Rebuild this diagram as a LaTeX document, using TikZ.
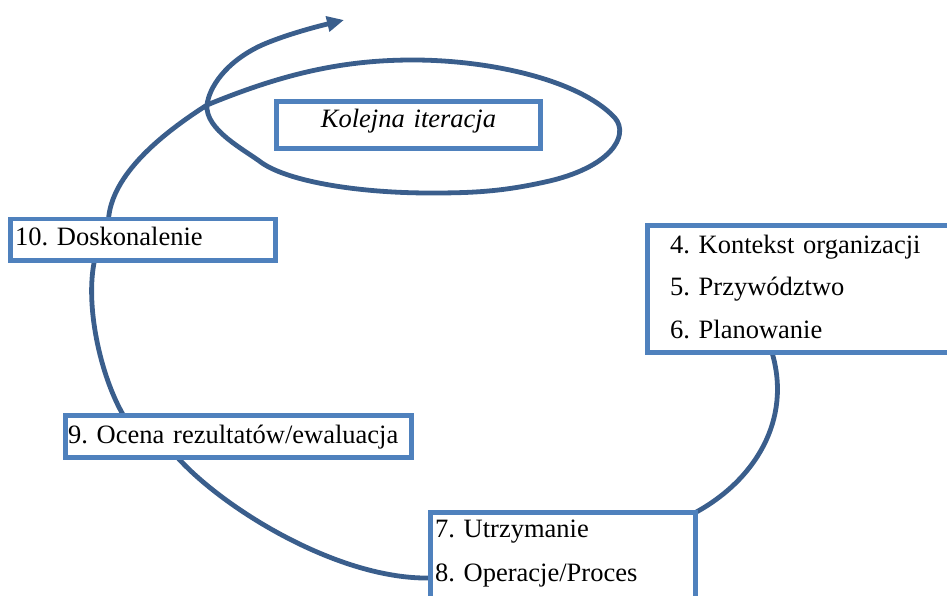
\documentclass[tikz,border=0pt]{standalone}
\usepackage{fontspec}
\setmainfont{Liberation Serif}
\usetikzlibrary{arrows.meta,calc}
\pgfdeclarelayer{background}
\pgfsetlayers{background,main}
\definecolor{boxblue}{HTML}{4F81BD}
\definecolor{curveblue}{HTML}{3A5E8C}
\frenchspacing
\begin{document}
\begin{tikzpicture}[x=1pt,y=-1pt,
  stagebox/.style={draw=boxblue, line width=4.5pt, fill=white, rectangle,
    inner ysep=0pt, outer sep=0pt, align=left,
    font=\fontsize{26.5}{42.5}\selectfont\frenchspacing},
  cyclepath/.style={draw=curveblue, line width=4.8pt}]
\useasboundingbox (0,0) rectangle (947,596);

\node[stagebox, minimum width=265pt, minimum height=41.5pt, inner xsep=4.5pt,
  text width=256pt, text height=17pt, text depth=6.5pt] (b10) at (143,239.75) {10. Doskonalenie};
\node[stagebox, align=center, minimum width=264pt, minimum height=47pt, inner xsep=4pt,
  text width=256pt, text height=16pt, text depth=10pt,
  font=\fontsize{26.5}{42.5}\selectfont\itshape] (iter) at (408.5,125) {Kolejna iteracja};
\node[stagebox, minimum width=332.5pt, minimum height=127pt, inner xsep=22.5pt,
  text width=287.5pt, text height=10pt, text depth=82pt] (b46) at (813.75,289)
  {4. Kontekst organizacji\\5. Przywództwo\\6. Planowanie};
\node[stagebox, minimum width=265pt, minimum height=107.5pt, inner xsep=4.5pt,
  text width=256pt, text height=10pt, text depth=68.5pt] (b78) at (563,566.25)
  {7. Utrzymanie\\[1.9pt]8. Operacje/Proces};
\node[stagebox, minimum width=346pt, minimum height=42pt, inner xsep=2.5pt,
  text width=341pt, text height=17pt, text depth=4pt] (b9) at (238.5,436.5)
  {9. Ocena rezultatów/ewaluacja};

\coordinate (cross) at (207,105);
\coordinate (tip) at (344,20);

\begin{pgfonlayer}{background}
\draw[cyclepath] ($(b46.south west)+(124.5,0)$) .. controls (792,420) and (755,480) .. (b78.north east);
\draw[cyclepath] ($(b78.north west)+(0,65.5)$) .. controls (340,580) and (225,510) .. ($(b9.south west)+(112,0)$);
\draw[cyclepath] ($(b9.north west)+(58,0)$) .. controls (100,375) and (85,305) .. ($(b10.south west)+(84,0)$);
\draw[cyclepath, -{Triangle[length=17pt,width=15pt]}] ($(b10.north west)+(98,0)$)
  .. controls (112,175) and (160,135) .. (cross)
  .. controls (280,75) and (340,60) .. (413,60)
  .. controls (490,60) and (580,80) .. (615,118)
  .. controls (630,136) and (610,168) .. (545,182)
  .. controls (500,192) and (470,193) .. (430,193)
  .. controls (360,193) and (290,182) .. (262,163)
  .. controls (245,150) and (205,130) .. (207,105)
  .. controls (209,88) and (225,62) .. (262,45)
  .. controls (285,35) and (315,27) .. (tip);
\end{pgfonlayer}
\end{tikzpicture}
\end{document}
